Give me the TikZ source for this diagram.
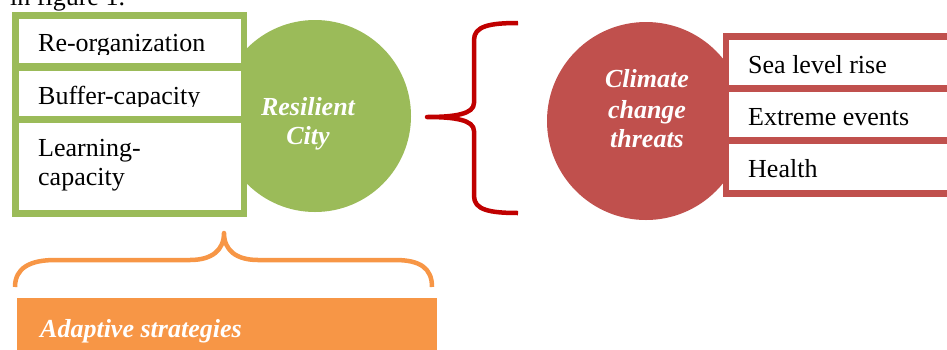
\documentclass[tikz,border=0pt]{standalone}
\usepackage{fontspec}
\setmainfont{Liberation Serif}
\definecolor{rgreen}{HTML}{9BBB59}
\definecolor{cred}{HTML}{C0504D}
\definecolor{bred}{HTML}{C00000}
\definecolor{aorange}{HTML}{F79646}
\begin{document}
\begin{tikzpicture}[x=1pt,y=-1pt,
  body/.style={font=\fontsize{26}{30}\selectfont, anchor=base west, inner sep=0pt, text=black},
  head/.style={font=\fontsize{26}{30}\selectfont\bfseries\itshape, anchor=base, inner sep=0pt, text=white},
  headw/.style={head, anchor=base west},
  ball/.style={circle, inner sep=0pt, minimum size=#1},
  brace/.style={line width=4.5pt, line join=round}]
\clip (0,0) rectangle (947,349);
% fragment of the running text above
\node[body] (caption) at (10,5) {in figure 1.};
% ---- Resilient city (green) ----
\node[ball=192pt, fill=rgreen] (rcity) at (315,116) {};
\fill[rgreen] (12,12) rectangle (247,217);
\fill[white] (19,19) rectangle (241,63);
\fill[white] (19,71) rectangle (241,116);
\fill[white] (19,123) rectangle (241,210);
\begin{scope}
  \clip (19,19) rectangle (241,54);
  \node[body] (reorg) at (38,51.7) {Re-organization};
\end{scope}
\begin{scope}
  \clip (19,71) rectangle (241,106.7);
  \node[body] (buffer) at (38,104) {Buffer-capacity};
\end{scope}
\node[body] (learn1) at (38,156.7) {Learning-};
\node[body] (learn2) at (38,185) {capacity};
\node[head] (rc1) at (308,115) {Resilient};
\node[head] (rc2) at (308,144) {City};
% ---- red brace ----
\draw[brace, bred] (518,23) .. controls (490,23) and (474,26) .. (474,40)
  -- (474,103) .. controls (474,114) and (455,117) .. (427,117)
  .. controls (455,117) and (474,120) .. (474,131)
  -- (474,196) .. controls (474,210) and (490,213) .. (518,213);
% ---- Climate change threats (red) ----
\node[ball=198pt, fill=cred] (cct) at (646,121) {};
\fill[cred] (723,33) rectangle (960,197);
\fill[white] (729,40) rectangle (960,85);
\fill[white] (729,92) rectangle (960,137);
\fill[white] (729,144) rectangle (960,190);
\node[head] (cc1) at (647,87.3) {Climate};
\node[head] (cc2) at (647,118.3) {change};
\node[head] (cc3) at (647,147.7) {threats};
\node[body] (sea) at (748,73) {Sea level rise};
\node[body] (extreme) at (748,125) {Extreme events};
\node[body] (health) at (748,177) {Health};
% ---- orange brace and adaptive strategies ----
\draw[brace, aorange] (15,287) .. controls (15,268) and (30,260) .. (55,260)
  -- (190,260) .. controls (212,260) and (224,250) .. (224,233)
  .. controls (224,250) and (236,260) .. (258,260)
  -- (395,260) .. controls (420,260) and (432,268) .. (432,287);
\fill[aorange] (17,298) rectangle (437,360);
\node[headw] (adapt) at (40,337) {Adaptive strategies};
\end{tikzpicture}
\end{document}
